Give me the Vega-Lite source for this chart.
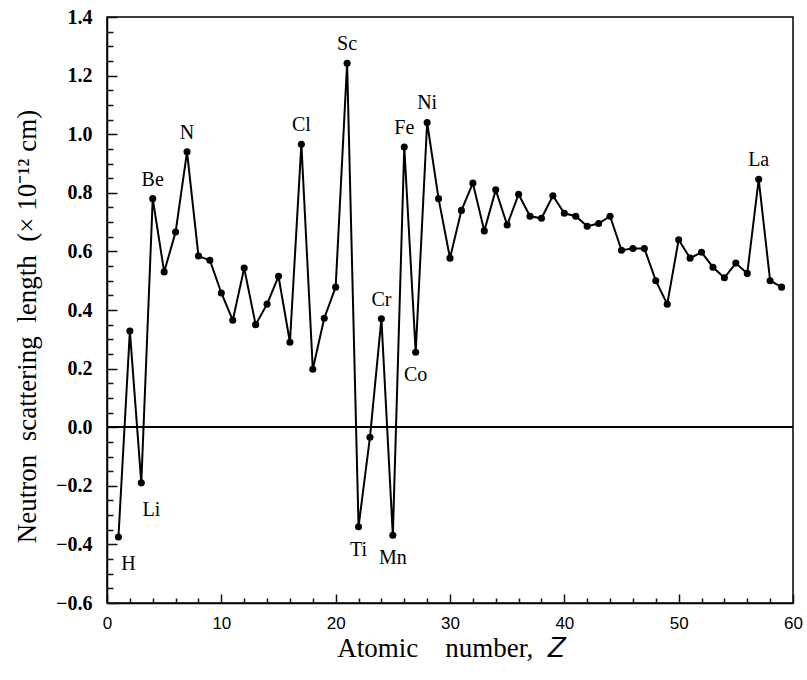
{
  "$schema": "https://vega.github.io/schema/vega-lite/v6.json",
  "width": 686,
  "height": 586,
  "autosize": {"type": "none"},
  "padding": {"left": 107, "top": 17, "right": 14, "bottom": 77},
  "background": "white",
  "config": {
    "view": {"stroke": "black", "strokeWidth": 1.5},
    "axis": {"grid": false, "domainColor": "black", "domainWidth": 1.5, "tickColor": "black", "labelColor": "black", "titleColor": "black"}
  },
  "data": {
    "values": [
      {"Z": 1, "el": "H", "b": -0.375},
      {"Z": 2, "el": "He", "b": 0.328},
      {"Z": 3, "el": "Li", "b": -0.19},
      {"Z": 4, "el": "Be", "b": 0.78},
      {"Z": 5, "el": "B", "b": 0.53},
      {"Z": 6, "el": "C", "b": 0.666},
      {"Z": 7, "el": "N", "b": 0.94},
      {"Z": 8, "el": "O", "b": 0.584},
      {"Z": 9, "el": "F", "b": 0.57},
      {"Z": 10, "el": "Ne", "b": 0.458},
      {"Z": 11, "el": "Na", "b": 0.365},
      {"Z": 12, "el": "Mg", "b": 0.543},
      {"Z": 13, "el": "Al", "b": 0.35},
      {"Z": 14, "el": "Si", "b": 0.42},
      {"Z": 15, "el": "P", "b": 0.515},
      {"Z": 16, "el": "S", "b": 0.29},
      {"Z": 17, "el": "Cl", "b": 0.966},
      {"Z": 18, "el": "Ar", "b": 0.198},
      {"Z": 19, "el": "K", "b": 0.372},
      {"Z": 20, "el": "Ca", "b": 0.478},
      {"Z": 21, "el": "Sc", "b": 1.242},
      {"Z": 22, "el": "Ti", "b": -0.34},
      {"Z": 23, "el": "V", "b": -0.034},
      {"Z": 24, "el": "Cr", "b": 0.37},
      {"Z": 25, "el": "Mn", "b": -0.369},
      {"Z": 26, "el": "Fe", "b": 0.956},
      {"Z": 27, "el": "Co", "b": 0.256},
      {"Z": 28, "el": "Ni", "b": 1.04},
      {"Z": 29, "el": "Cu", "b": 0.78},
      {"Z": 30, "el": "Zn", "b": 0.577},
      {"Z": 31, "el": "Ga", "b": 0.74},
      {"Z": 32, "el": "Ge", "b": 0.833},
      {"Z": 33, "el": "As", "b": 0.67},
      {"Z": 34, "el": "Se", "b": 0.81},
      {"Z": 35, "el": "Br", "b": 0.69},
      {"Z": 36, "el": "Kr", "b": 0.795},
      {"Z": 37, "el": "Rb", "b": 0.72},
      {"Z": 38, "el": "Sr", "b": 0.713},
      {"Z": 39, "el": "Y", "b": 0.79},
      {"Z": 40, "el": "Zr", "b": 0.73},
      {"Z": 41, "el": "Nb", "b": 0.72},
      {"Z": 42, "el": "Mo", "b": 0.686},
      {"Z": 43, "el": "Tc", "b": 0.695},
      {"Z": 44, "el": "Ru", "b": 0.72},
      {"Z": 45, "el": "Rh", "b": 0.604},
      {"Z": 46, "el": "Pd", "b": 0.61},
      {"Z": 47, "el": "Ag", "b": 0.61},
      {"Z": 48, "el": "Cd", "b": 0.5},
      {"Z": 49, "el": "In", "b": 0.42},
      {"Z": 50, "el": "Sn", "b": 0.64},
      {"Z": 51, "el": "Sb", "b": 0.577},
      {"Z": 52, "el": "Te", "b": 0.597},
      {"Z": 53, "el": "I", "b": 0.546},
      {"Z": 54, "el": "Xe", "b": 0.51},
      {"Z": 55, "el": "Cs", "b": 0.56},
      {"Z": 56, "el": "Ba", "b": 0.525},
      {"Z": 57, "el": "La", "b": 0.846},
      {"Z": 58, "el": "Ce", "b": 0.5},
      {"Z": 59, "el": "Pr", "b": 0.478}
    ]
  },
  "resolve": {"axis": {"x": "independent", "y": "independent"}},
  "layer": [
    {
      "mark": {"type": "rule", "color": "black", "strokeWidth": 1.5},
      "encoding": {
        "y": {"datum": 0, "type": "quantitative", "scale": {"domain": [-0.6, 1.4], "nice": false, "zero": false}, "axis": null}
      }
    },
    {
      "mark": {"type": "line", "color": "black", "strokeWidth": 2, "point": {"filled": true, "color": "black", "size": 50}},
      "encoding": {
        "x": {"field": "Z", "type": "quantitative", "scale": {"domain": [0, 60], "nice": false, "zero": false},
          "axis": {"orient": "bottom", "values": [0, 10, 20, 30, 40, 50, 60], "ticks": false, "labelPadding": 12,
            "labelFont": "Liberation Sans", "labelFontSize": 17, "labelFlush": false,
            "title": "Atomic\u2002\u2002number,\u2002𝑍", "titleFont": "Liberation Serif", "titleFontSize": 27, "titleFontWeight": "normal",
            "titleX": 343, "titleY": 45, "titleBaseline": "middle", "titleAlign": "center"}},
        "y": {"field": "b", "type": "quantitative", "scale": {"domain": [-0.6, 1.4], "nice": false, "zero": false},
          "axis": {"orient": "left", "values": [-0.6, -0.4, -0.2, 0, 0.2, 0.4, 0.6, 0.8, 1.0, 1.2, 1.4], "format": ".1f", "ticks": false,
            "labelPadding": 15, "labelFont": "Liberation Serif", "labelFontSize": 20, "labelFontWeight": "bold", "labelFlush": false,
            "labelExpr": "replace(datum.label, '-', '\u2212')",
            "title": "Neutron\u2002scattering\u2002length\u2002(\u00d7 10\u207b\u00b9\u00b2 cm)", "titleFont": "Liberation Serif", "titleFontSize": 27, "titleFontWeight": "normal",
            "titleAngle": -90, "titleX": -80, "titleY": 309, "titleBaseline": "middle", "titleAlign": "center"}}
      }
    },
    {
      "transform": [{"filter": {"field": "el", "oneOf": ["Be", "N", "Cl", "Sc", "Cr", "Fe", "Ni", "La"]}}],
      "mark": {"type": "text", "font": "Liberation Serif", "fontSize": 20, "dy": -19, "baseline": "middle", "color": "black"},
      "encoding": {
        "x": {"field": "Z", "type": "quantitative", "scale": {"domain": [0, 60], "nice": false, "zero": false},
          "axis": {"orient": "top", "offset": -586, "labels": false, "domain": false, "title": null,
            "values": [0, 10, 20, 30, 40, 50, 60], "tickSize": 9, "tickWidth": 1.5, "tickColor": "#111111"}},
        "y": {"field": "b", "type": "quantitative", "scale": {"domain": [-0.6, 1.4], "nice": false, "zero": false},
          "axis": {"orient": "right", "offset": -686, "labels": false, "domain": false, "title": null,
            "values": [-0.6, -0.4, -0.2, 0, 0.2, 0.4, 0.6, 0.8, 1.0, 1.2, 1.4], "tickSize": 10, "tickWidth": 1.5, "tickColor": "#111111"}},
        "text": {"field": "el"}
      }
    },
    {
      "transform": [{"filter": {"field": "el", "oneOf": ["Ti", "Mn", "Co"]}}],
      "mark": {"type": "text", "font": "Liberation Serif", "fontSize": 20, "dy": 23, "baseline": "middle", "color": "black"},
      "encoding": {
        "x": {"field": "Z", "type": "quantitative", "scale": {"domain": [0, 60], "nice": false, "zero": false},
          "axis": {"orient": "top", "offset": -586, "labels": false, "domain": false, "title": null,
            "values": [2, 4, 6, 8, 12, 14, 16, 18, 22, 24, 26, 28, 32, 34, 36, 38, 42, 44, 46, 48, 52, 54, 56, 58], "tickSize": 5, "tickWidth": 1.5, "tickColor": "#111111"}},
        "y": {"field": "b", "type": "quantitative", "scale": {"domain": [-0.6, 1.4], "nice": false, "zero": false},
          "axis": {"orient": "right", "offset": -686, "labels": false, "domain": false, "title": null,
            "values": [-0.55, -0.5, -0.45, -0.35, -0.3, -0.25, -0.15, -0.1, -0.05, 0.05, 0.1, 0.15, 0.25, 0.3, 0.35, 0.45, 0.5, 0.55, 0.65, 0.7, 0.75, 0.85, 0.9, 0.95, 1.05, 1.1, 1.15, 1.25, 1.3, 1.35], "tickSize": 6, "tickWidth": 1.5, "tickColor": "#111111"}},
        "text": {"field": "el"}
      }
    },
    {
      "transform": [{"filter": {"field": "el", "oneOf": ["H", "Li"]}}],
      "mark": {"type": "text", "font": "Liberation Serif", "fontSize": 20, "dy": 27, "dx": 10, "baseline": "middle", "color": "black"},
      "encoding": {
        "x": {"field": "Z", "type": "quantitative", "scale": {"domain": [0, 60], "nice": false, "zero": false}, "axis": null},
        "y": {"field": "b", "type": "quantitative", "scale": {"domain": [-0.6, 1.4], "nice": false, "zero": false}, "axis": null},
        "text": {"field": "el"}
      }
    }
  ]
}
